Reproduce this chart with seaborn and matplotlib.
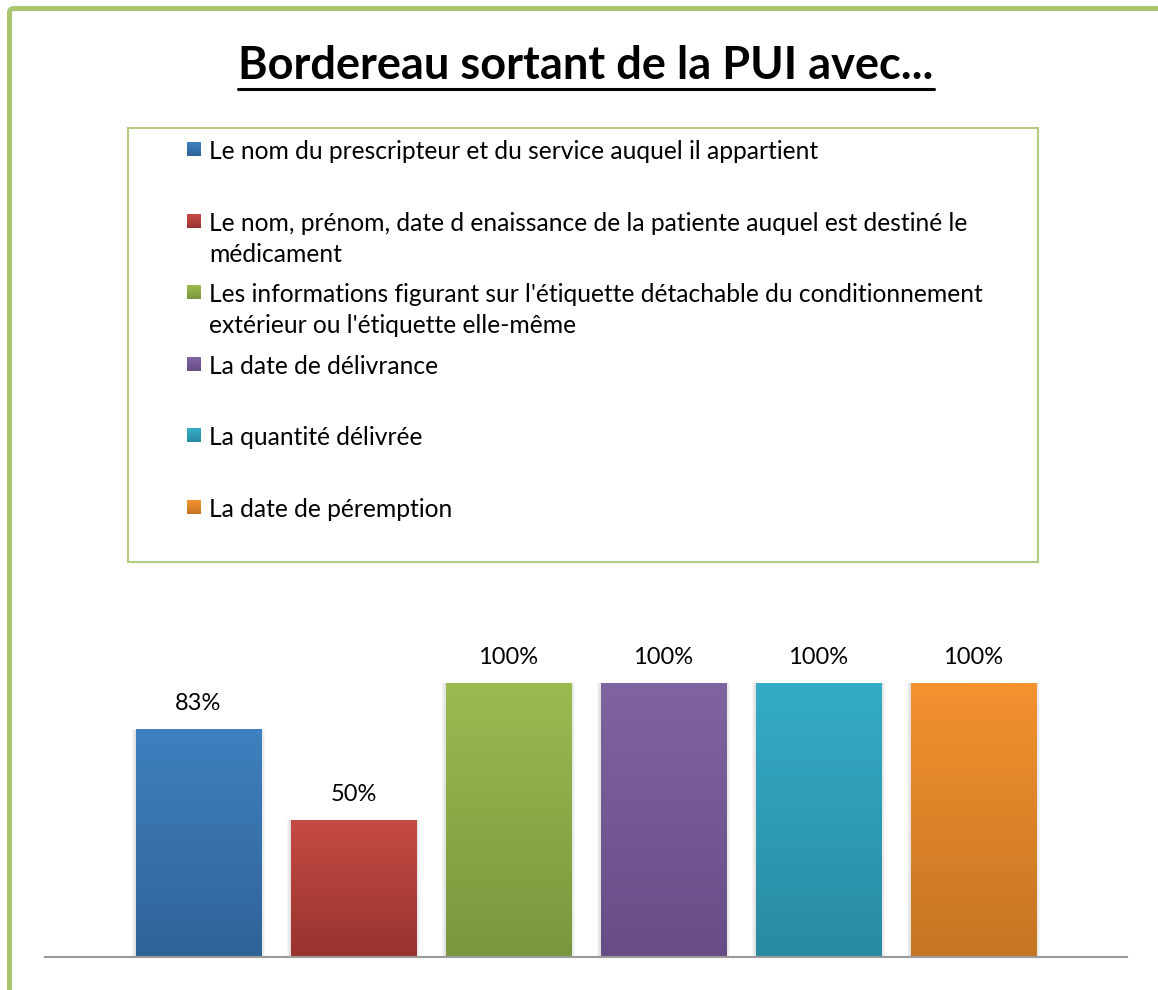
import numpy as np
import pandas as pd
import matplotlib
matplotlib.use("Agg")
import matplotlib.pyplot as plt
import seaborn as sns
from matplotlib.patches import Rectangle, FancyBboxPatch
from matplotlib.lines import Line2D
from matplotlib.colors import to_rgb

# Chart data
title = "Bordereau sortant de la PUI avec..."
labels = [
    "Le nom du prescripteur et du service auquel il appartient",
    "Le nom, prénom, date d enaissance de la patiente auquel est destiné le\nmédicament",
    "Les informations figurant sur l'étiquette détachable du conditionnement\nextérieur ou l'étiquette elle-même",
    "La date de délivrance",
    "La quantité délivrée",
    "La date de péremption",
]
values = [83, 50, 100, 100, 100, 100]
top_colors = ["#3F80BF", "#C54B43", "#9BBB50", "#8064A2", "#35ACC6", "#F3922F"]
bottom_colors = ["#2F6398", "#98332F", "#7A963E", "#674C85", "#288BA2", "#C57523"]

sns.set_theme(style="white")
plt.rcParams["font.family"] = ["Lato", "DejaVu Sans"]

W, H = 1158, 990
fig = plt.figure(figsize=(W / 100, H / 100), dpi=100)


def fx(px):
    return px / W


def fy(py):
    return 1 - py / H


# Outer green frame (right and bottom edges fall outside the picture)
frame = FancyBboxPatch((fx(9.5), fy(1060)), fx(1250) - fx(9.5), fy(8.5) - fy(1060),
                       boxstyle="round,pad=0,rounding_size=0.004",
                       transform=fig.transFigure, fill=False,
                       edgecolor="#A9C66F", linewidth=3.6, clip_on=False)
fig.add_artist(frame)

# Bars
ax = fig.add_axes([fx(45), fy(957), fx(1127) - fx(45), fy(600) - fy(957)])
ymax = 100 * 357 / 274
df = pd.DataFrame({"item": labels, "value": values})
sns.barplot(data=df, x="item", y="value", hue="item", palette=top_colors,
            width=125 / 155, legend=False, ax=ax, saturation=1)
bars = sorted(ax.patches, key=lambda p: p.get_x())

px_x = 1 / 155
px_y = ymax / 357
for patch, v, c_top, c_bot in zip(bars, values, top_colors, bottom_colors):
    x0, w, h = patch.get_x(), patch.get_width(), patch.get_height()
    # soft shadow
    for k in range(1, 5):
        ax.add_patch(Rectangle((x0 - k * px_x, -k * px_y), w + 2 * k * px_x, h + k * px_y,
                               facecolor="#000000", alpha=0.035, edgecolor="none",
                               zorder=0.5))
    t = np.linspace(0, 1, 256)[:, None]
    grad = np.array(to_rgb(c_top)) * (1 - t) + np.array(to_rgb(c_bot)) * t
    ax.imshow(grad[:, None, :], extent=[x0, x0 + w, 0, h], aspect="auto",
              origin="upper", interpolation="bilinear", zorder=2)
    ax.annotate(f"{v}%", (x0 + w / 2, h), xytext=(0, 14), textcoords="offset points",
                ha="center", va="baseline", fontsize=17, color="#000000")

ax.set_xlim(-0.99, 5.99)
ax.set_ylim(0, ymax)
ax.set_xticks([])
ax.set_yticks([])
ax.set_xlabel("")
ax.set_ylabel("")
for side in ["top", "left", "right"]:
    ax.spines[side].set_visible(False)
ax.spines["bottom"].set_color("#9A9A9A")
ax.spines["bottom"].set_linewidth(1.5)
ax.spines["bottom"].set_zorder(3)
ax.patch.set_alpha(0)

# Legend box drawn by hand so the marker sits on the first line of each entry
fig.add_artist(Rectangle((fx(128), fy(562)), fx(1038) - fx(128), fy(128) - fy(562),
                         transform=fig.transFigure, fill=False,
                         edgecolor="#B3CC82", linewidth=1.5))
for i, (label, c_top, c_bot) in enumerate(zip(labels, top_colors, bottom_colors)):
    base = 159 + i * 71.6
    # small gradient square as legend marker
    for s in range(14):
        f = s / 13
        col = tuple(np.array(to_rgb(c_top)) * (1 - f) + np.array(to_rgb(c_bot)) * f)
        fig.add_artist(Rectangle((fx(187), fy(base - 17 + s + 1)), 14 / W, 1 / H,
                                 transform=fig.transFigure, facecolor=col,
                                 edgecolor="none"))
    for j, line in enumerate(label.split("\n")):
        fig.text(fx(209), fy(base + j * 31), line, ha="left", va="baseline",
                 fontsize=17.7, color="#000000")

# Title with underline
t = fig.text(fx(586), fy(79), title, ha="center", va="baseline",
             fontsize=32.5, fontweight="bold", color="#000000")
fig.canvas.draw()
bb = t.get_window_extent()
fig.add_artist(Line2D([bb.x0 / W, bb.x1 / W], [fy(88.5), fy(88.5)],
                      transform=fig.transFigure, color="#000000", linewidth=2.2))

fig.savefig("out.png", dpi=100)
